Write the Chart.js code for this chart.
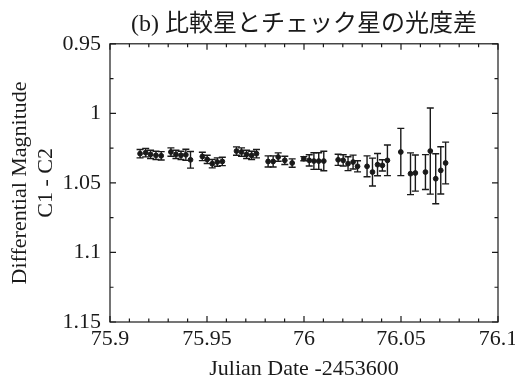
<!DOCTYPE html>
<html>
<head>
<meta charset="utf-8">
<script src="https://cdn.jsdelivr.net/npm/chart.js@4"></script>
<style>
  body { margin: 0; background: #fff; }
</style>
</head>
<body>
<canvas id="chart" width="515" height="382"></canvas>
<script>
// Julian date - 2453600, differential magnitude C1 - C2, error
const jd = [
  75.9155, 75.9184, 75.9209, 75.9237, 75.9264,
  75.9314, 75.9340, 75.9366, 75.9391, 75.9415,
  75.9476, 75.9501, 75.9527, 75.9553, 75.9579,
  75.9652, 75.9678, 75.9704, 75.9730, 75.9755,
  75.9815, 75.9841, 75.9867, 75.9901, 75.9939,
  75.9999, 76.0027, 76.0051, 76.0076, 76.0102,
  76.0176, 76.0202, 76.0227, 76.0253, 76.0276,
  76.0325, 76.0353, 76.0379, 76.0404, 76.0430,
  76.0499, 76.0549, 76.0574, 76.0626, 76.0651, 76.0679, 76.0705, 76.0730
];
const mag = [
  1.0290, 1.0283, 1.0295, 1.0302, 1.0305,
  1.0278, 1.0295, 1.0302, 1.0298, 1.0334,
  1.0310, 1.0331, 1.0362, 1.0350, 1.0346,
  1.0271, 1.0278, 1.0295, 1.0302, 1.0290,
  1.0346, 1.0346, 1.0314, 1.0338, 1.0357,
  1.0326, 1.0338, 1.0343, 1.0343, 1.0343,
  1.0334, 1.0338, 1.0362, 1.0350, 1.0381,
  1.0381, 1.0422, 1.0369, 1.0374, 1.0338,
  1.0278, 1.0434, 1.0429, 1.0422, 1.0271, 1.0470, 1.0410, 1.0357
];
const err = [
  0.003, 0.003, 0.003, 0.003, 0.003,
  0.003, 0.003, 0.003, 0.004, 0.006,
  0.003, 0.003, 0.003, 0.003, 0.003,
  0.003, 0.003, 0.003, 0.003, 0.003,
  0.004, 0.004, 0.003, 0.003, 0.003,
  0.0015, 0.004, 0.006, 0.006, 0.007,
  0.004, 0.004, 0.005, 0.005, 0.004,
  0.0075, 0.010, 0.008, 0.004, 0.011,
  0.017, 0.015, 0.013, 0.0125, 0.031, 0.018, 0.017, 0.015
];
const xTicks = [75.9, 75.95, 76, 76.05, 76.1];
const yTicks = [0.95, 1, 1.05, 1.1, 1.15];

const font = "'Liberation Serif', 'Noto Sans CJK JP', serif";
const ink = '#1a1a1a';

const errorBars = {
  id: 'errorBars',
  afterDatasetsDraw(chart) {
    const {ctx, scales: {x, y}} = chart;
    ctx.save();
    ctx.strokeStyle = ink;
    ctx.lineWidth = 1.4;
    jd.forEach((t, i) => {
      const px = x.getPixelForValue(t);
      const top = y.getPixelForValue(mag[i] - err[i]);
      const bot = y.getPixelForValue(mag[i] + err[i]);
      ctx.beginPath();
      ctx.moveTo(px, top); ctx.lineTo(px, bot);
      ctx.moveTo(px - 3.5, top); ctx.lineTo(px + 3.5, top);
      ctx.moveTo(px - 3.5, bot); ctx.lineTo(px + 3.5, bot);
      ctx.stroke();
    });
    ctx.restore();
  }
};

// box round the plot with inward ticks on all four sides
const frame = {
  id: 'frame',
  afterDraw(chart) {
    const {ctx, chartArea: a, scales: {x, y}} = chart;
    ctx.save();
    ctx.strokeStyle = ink;
    ctx.lineWidth = 1.2;
    ctx.strokeRect(a.left, a.top, a.right - a.left, a.bottom - a.top);
    ctx.beginPath();
    for (let i = 0; i <= 20; i++) {
      const px = x.getPixelForValue(xTicks[0] + i * 0.01);
      const len = i % 5 === 0 ? 6 : 3.5;
      ctx.moveTo(px, a.bottom); ctx.lineTo(px, a.bottom - len);
      ctx.moveTo(px, a.top); ctx.lineTo(px, a.top + len);
    }
    for (let i = 0; i <= 8; i++) {
      const py = y.getPixelForValue(yTicks[0] + i * 0.025);
      const len = i % 2 === 0 ? 6 : 3.5;
      ctx.moveTo(a.left, py); ctx.lineTo(a.left + len, py);
      ctx.moveTo(a.right, py); ctx.lineTo(a.right - len, py);
    }
    ctx.stroke();
    ctx.restore();
  }
};

const fmt = v => String(parseFloat(v.toFixed(3)));

new Chart(document.getElementById('chart'), {
  type: 'scatter',
  data: {
    datasets: [{
      data: jd.map((t, i) => ({x: t, y: mag[i]})),
      backgroundColor: ink,
      borderColor: ink,
      pointRadius: 2.4,
      pointHoverRadius: 2.4
    }]
  },
  options: {
    responsive: false,
    animation: false,
    layout: { padding: { right: 17 } },
    plugins: {
      legend: { display: false },
      tooltip: { enabled: false },
      title: {
        display: true,
        fullSize: false,
        text: '(b) 比較星とチェック星の光度差',
        color: ink,
        font: { family: font, size: 24, weight: 'normal' },
        padding: { top: 10, bottom: 5 }
      }
    },
    scales: {
      x: {
        type: 'linear',
        min: 75.9,
        max: 76.1,
        afterBuildTicks: s => { s.ticks = xTicks.map(v => ({value: v})); },
        afterFit: s => { s.height = 60; },
        grid: { display: false },
        border: { display: false },
        ticks: {
          color: ink,
          padding: -4,
          maxRotation: 0,
          autoSkip: false,
          font: { family: font, size: 22 },
          callback: v => fmt(v)
        },
        title: {
          display: true,
          text: 'Julian Date -2453600',
          color: ink,
          font: { family: font, size: 22 },
          padding: { top: 6, bottom: 0 }
        }
      },
      y: {
        type: 'linear',
        reverse: true,
        min: 0.95,
        max: 1.15,
        afterBuildTicks: s => { s.ticks = yTicks.map(v => ({value: v})); },
        afterFit: s => { s.width = 110; },
        grid: { display: false },
        border: { display: false },
        ticks: {
          color: ink,
          padding: 1,
          autoSkip: false,
          font: { family: font, size: 22 },
          callback: v => fmt(v)
        },
        title: {
          display: true,
          text: ['Differential Magnitude', 'C1 - C2'],
          color: ink,
          font: { family: font, size: 22, lineHeight: 1.15 },
          padding: { top: 8, bottom: 0 }
        }
      }
    }
  },
  plugins: [errorBars, frame]
});
</script>
</body>
</html>
